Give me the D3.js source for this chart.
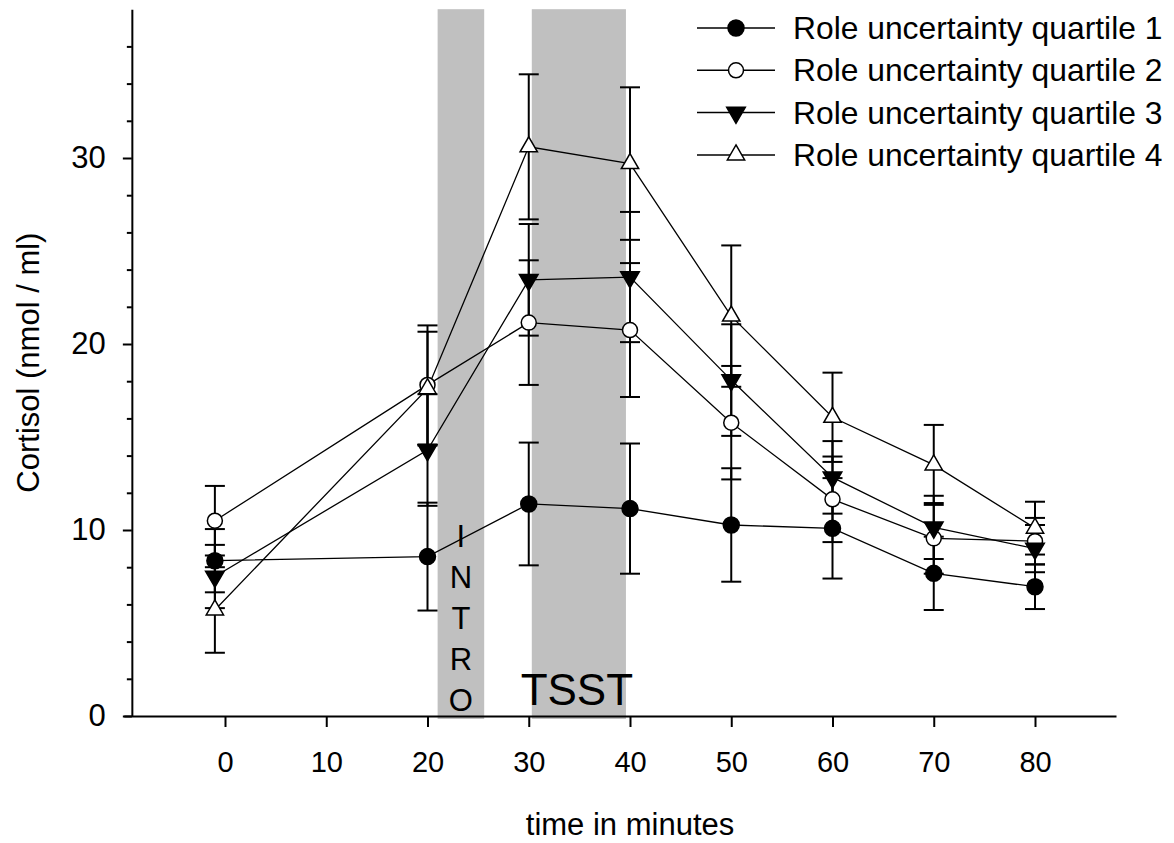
<!DOCTYPE html>
<html>
<head>
<meta charset="utf-8">
<script src="https://cdn.jsdelivr.net/npm/d3@7"></script>
<style>
  body { margin: 0; background: white; }
  text { font-family: Arial, "Liberation Sans", sans-serif; fill: black; }
</style>
</head>
<body>
<svg id="chart" width="1174" height="843"></svg>
<script>
// sampling times (minutes)
var times = [-1, 20, 30, 40, 50, 60, 70, 80]

var q1 = [8.35, 8.57, 11.4, 11.15, 10.27, 10.09, 7.67, 6.95]
var q1Err = [1.7, 2.9, 3.3, 3.5, 3.05, 2.7, 1.97, 1.2]
var q2 = [10.5, 17.8, 21.15, 20.75, 15.77, 11.65, 9.55, 9.4]
var q2Err = [1.87, 3.2, 3.35, 3.6, 3.05, 2.3, 1.9, 1.25]
var q3 = [7.5, 14.3, 23.45, 23.6, 18.06, 12.83, 10.14, 9.0]
var q3Err = [1.7, 3.0, 3.0, 3.5, 3.0, 1.95, 1.7, 1.27]
var q4 = [5.7, 17.6, 30.6, 29.7, 21.5, 16.06, 13.5, 10.1]
var q4Err = [2.3, 3.06, 3.9, 4.1, 3.8, 2.4, 2.15, 1.42]

var seriesNames = ["Role uncertainty quartile 1", "Role uncertainty quartile 2",
                   "Role uncertainty quartile 3", "Role uncertainty quartile 4"]

var xTicks = [0, 10, 20, 30, 40, 50, 60, 70, 80]
var yTicks = [0, 10, 20, 30]
var yMinorTicks = [2, 4, 6, 8, 12, 14, 16, 18, 22, 24, 26, 28, 32, 34, 36]

// stress phases (minutes)
var phaseNames = ["INTRO", "TSST"]
var phaseStart = [21, 30.3]
var phaseEnd = [25.6, 39.6]

var svg = d3.select("#chart")

var x = d3.scaleLinear().domain([-10, 88]).range([123.75, 1116])
var y = d3.scaleLinear().domain([0, 38]).range([716, 9.2])
var yAxisX = x(-9.2)

var series = [
  {name: seriesNames[0], vals: q1, err: q1Err, shape: "circle", fill: "black"},
  {name: seriesNames[1], vals: q2, err: q2Err, shape: "circle", fill: "white"},
  {name: seriesNames[2], vals: q3, err: q3Err, shape: "down", fill: "black"},
  {name: seriesNames[3], vals: q4, err: q4Err, shape: "up", fill: "white"}
]

// grey phase bands
svg.append("g").selectAll("rect").data(phaseNames).enter()
  .append("rect")
  .attr("x", function(d, i) { return x(phaseStart[i]) })
  .attr("width", function(d, i) { return x(phaseEnd[i]) - x(phaseStart[i]) })
  .attr("y", y(38))
  .attr("height", y(0) - y(38) + 3)
  .attr("fill", "#c0c0c0")

// INTRO letters stacked vertically
var introMid = (x(phaseStart[0]) + x(phaseEnd[0])) / 2
svg.append("g").selectAll("text").data(phaseNames[0].split("")).enter()
  .append("text")
  .attr("x", introMid)
  .attr("y", function(d, i) { return 547 + i * 41 })
  .attr("text-anchor", "middle")
  .attr("font-size", "31px")
  .text(function(d) { return d })

svg.append("text")
  .attr("x", (x(phaseStart[1]) + x(phaseEnd[1])) / 2 - 2)
  .attr("y", 705)
  .attr("text-anchor", "middle")
  .attr("font-size", "44px")
  .text(phaseNames[1])

// axes
var xAxis = svg.append("g")
  .attr("transform", "translate(0," + y(0) + ")")
  .call(d3.axisBottom(x).tickValues(xTicks).tickSize(11).tickSizeOuter(0).tickPadding(24))
xAxis.select(".domain").attr("stroke-width", 2)
xAxis.selectAll(".tick line").attr("stroke-width", 2)
xAxis.selectAll("text").attr("font-size", "29px").attr("fill", "black")

var yAxis = svg.append("g")
  .attr("transform", "translate(" + yAxisX + ",0)")
  .call(d3.axisLeft(y).tickValues(yTicks).tickSize(9).tickSizeOuter(0).tickPadding(17))
yAxis.select(".domain").attr("stroke-width", 2)
yAxis.selectAll(".tick line").attr("stroke-width", 2)
yAxis.selectAll("text").attr("font-size", "31px").attr("fill", "black")

var yMinor = svg.append("g")
  .attr("transform", "translate(" + yAxisX + ",0)")
  .call(d3.axisLeft(y).tickValues(yMinorTicks).tickSize(5).tickSizeOuter(0).tickFormat(""))
yMinor.select(".domain").remove()
yMinor.selectAll(".tick line").attr("stroke-width", 2)

svg.append("text")
  .attr("x", (x(0) + x(80)) / 2)
  .attr("y", 835)
  .attr("text-anchor", "middle")
  .attr("font-size", "31px")
  .text("time in minutes")

svg.append("text")
  .attr("transform", "translate(39," + y(19) + ") rotate(-90)")
  .attr("text-anchor", "middle")
  .attr("font-size", "31px")
  .text("Cortisol (nmol / ml)")

// symbols
function marker(sel, shape, fill) {
  if (shape == "circle") {
    sel.append("circle").attr("r", fill == "black" ? 8 : 7.5)
      .attr("fill", fill).attr("stroke", "black").attr("stroke-width", 1.5)
  } else {
    sel.append("path")
      .attr("d", d3.symbol().type(d3.symbolTriangle).size(shape == "down" ? 150 : 130)())
      .attr("transform", shape == "down" ? "rotate(180)" : null)
      .attr("fill", fill).attr("stroke", "black").attr("stroke-width", 1.5)
  }
}

var line = d3.line()
  .x(function(d, i) { return x(times[i]) })
  .y(function(d) { return y(d) })

var plot = svg.append("g")

series.forEach(function(s) {
  plot.append("path")
    .datum(s.vals)
    .attr("d", line)
    .attr("fill", "none")
    .attr("stroke", "black")
    .attr("stroke-width", 1.3)
})

series.forEach(function(s) {
  var eb = plot.append("g").selectAll("g").data(s.vals).enter().append("g")
  eb.append("line")
    .attr("x1", function(d, i) { return x(times[i]) })
    .attr("x2", function(d, i) { return x(times[i]) })
    .attr("y1", function(d, i) { return y(d + s.err[i]) })
    .attr("y2", function(d, i) { return y(d - s.err[i]) })
    .attr("stroke", "black").attr("stroke-width", 2)
  ;[1, -1].forEach(function(sign) {
    eb.append("line")
      .attr("x1", function(d, i) { return x(times[i]) - 10 })
      .attr("x2", function(d, i) { return x(times[i]) + 10 })
      .attr("y1", function(d, i) { return y(d + sign * s.err[i]) })
      .attr("y2", function(d, i) { return y(d + sign * s.err[i]) })
      .attr("stroke", "black").attr("stroke-width", 2)
  })
})

var drawOrder = [1, 2, 0, 3]
drawOrder.forEach(function(k) {
  var s = series[k]
  plot.append("g").selectAll("g").data(s.vals).enter()
    .append("g")
    .attr("transform", function(d, i) { return "translate(" + x(times[i]) + "," + y(d) + ")" })
    .each(function() { marker(d3.select(this), s.shape, s.fill) })
})

// legend
var legend = svg.append("g").selectAll("g").data(series).enter()
  .append("g")
  .attr("transform", function(d, i) { return "translate(0," + (28 + i * 42.3) + ")" })

legend.append("line")
  .attr("x1", 697).attr("x2", 775)
  .attr("stroke", "black").attr("stroke-width", 1.5)

legend.append("g")
  .attr("transform", "translate(736,0)")
  .each(function(d) { marker(d3.select(this), d.shape, d.fill) })

legend.append("text")
  .attr("x", 793)
  .attr("y", 11)
  .attr("font-size", "31.8px")
  .text(function(d) { return d.name })
</script>
</body>
</html>
